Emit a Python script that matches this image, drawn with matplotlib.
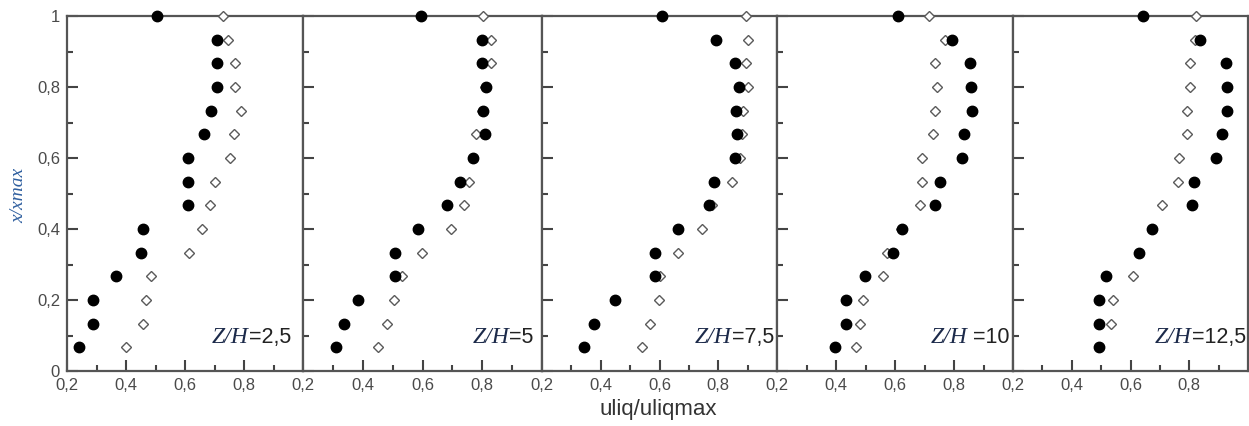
import matplotlib
matplotlib.use("Agg")
import matplotlib.pyplot as plt
import numpy as np

plt.rcParams['font.family'] = ['Liberation Sans', 'DejaVu Sans']

# y positions (x/xmax), from bottom to top
y_levels = [0.067, 0.133, 0.2, 0.267, 0.333, 0.4, 0.467, 0.533, 0.6,
            0.667, 0.733, 0.8, 0.867, 0.933, 1.0]

panel_values = ["=2,5", "=5", "=7,5", " =10", "=12,5"]

# filled circles (uliq/uliqmax), bottom to top
filled_25 = [0.242, 0.288, 0.288, 0.365, 0.451, 0.459, 0.61, 0.61, 0.61,
             0.665, 0.688, 0.707, 0.71, 0.71, 0.505]
filled_5 = [0.311, 0.336, 0.384, 0.507, 0.509, 0.584, 0.683, 0.726, 0.770,
            0.808, 0.802, 0.814, 0.799, 0.799, 0.594]
filled_75 = [0.342, 0.376, 0.448, 0.584, 0.584, 0.664, 0.768, 0.785, 0.856,
             0.864, 0.859, 0.870, 0.857, 0.791, 0.609]
filled_10 = [0.397, 0.434, 0.434, 0.499, 0.593, 0.625, 0.734, 0.751, 0.826,
             0.834, 0.860, 0.859, 0.853, 0.794, 0.61]
filled_125 = [0.493, 0.492, 0.492, 0.518, 0.63, 0.672, 0.808, 0.816, 0.891,
              0.911, 0.927, 0.927, 0.925, 0.836, 0.643]

# open diamonds (uliq/uliqmax), bottom to top
open_25 = [0.399, 0.457, 0.467, 0.486, 0.614, 0.659, 0.685, 0.702, 0.751,
           0.765, 0.79, 0.768, 0.768, 0.747, 0.728]
open_5 = [0.452, 0.48, 0.505, 0.533, 0.598, 0.697, 0.74, 0.757, 0.77,
          0.78, 0.80, 0.81, 0.828, 0.828, 0.802]
open_75 = [0.541, 0.569, 0.598, 0.603, 0.664, 0.745, 0.78, 0.848, 0.873,
           0.882, 0.884, 0.9, 0.893, 0.9, 0.893]
open_10 = [0.468, 0.482, 0.491, 0.561, 0.573, 0.62, 0.684, 0.69, 0.692,
           0.728, 0.734, 0.741, 0.734, 0.768, 0.715]
open_125 = [0.493, 0.532, 0.541, 0.607, 0.63, 0.672, 0.706, 0.76, 0.766,
            0.791, 0.793, 0.802, 0.802, 0.82, 0.823]

filled = [filled_25, filled_5, filled_75, filled_10, filled_125]
opened = [open_25, open_5, open_75, open_10, open_125]

x_ticks = [0.2, 0.4, 0.6, 0.8]
x_ticklabels = ["0,2", "0,4", "0,6", "0,8"]
y_ticks = [0, 0.2, 0.4, 0.6, 0.8, 1.0]
y_ticklabels = ["0", "0,2", "0,4", "0,6", "0,8", "1"]

W, H = 1249, 426
fig = plt.figure(figsize=(W / 100, H / 100), dpi=100)

lefts = [67, 303, 542, 777, 1013]
rights = [303, 542, 777, 1013, 1248]
top_px, bot_px = 16, 371
text_x = [0.949, 0.966, 0.987, 0.987, 0.991]

spine_c = '#555555'
tick_c = '#444444'

for i in range(5):
    ax = fig.add_axes([lefts[i] / W, (H - bot_px) / H,
                       (rights[i] - lefts[i]) / W, (bot_px - top_px) / H])
    ax.plot(opened[i], y_levels, linestyle='none', marker='D', ms=5.5,
            mfc='white', mec='#5a5a5a', mew=1.0, clip_on=False, zorder=3)
    ax.plot(filled[i], y_levels, linestyle='none', marker='o', ms=7.5,
            mfc='black', mec='black', clip_on=False, zorder=4)
    ax.set_xlim(0.2, 1.0)
    ax.set_ylim(0, 1)
    ax.set_xticks(x_ticks)
    ax.set_xticks([0.3, 0.5, 0.7, 0.9], minor=True)
    ax.set_xticklabels(x_ticklabels)
    ax.set_yticks(y_ticks)
    ax.set_yticks([0.1, 0.3, 0.5, 0.7, 0.9], minor=True)
    if i == 0:
        ax.set_yticklabels(y_ticklabels)
    else:
        ax.set_yticklabels([])
    ax.tick_params(which='both', direction='in', colors=tick_c,
                   labelcolor='#4a4a4a', labelsize=12, width=1.5,
                   top=False, right=False)
    ax.tick_params(which='major', length=8, pad=5)
    ax.tick_params(which='minor', length=4)
    for s in ax.spines.values():
        s.set_color(spine_c)
        s.set_linewidth(1.6)
    t1 = ax.text(text_x[i], 0.093, panel_values[i],
                 transform=ax.transAxes, ha='right', va='center',
                 fontsize=15.5, color='#222222')
    ax.annotate("Z/H", xy=(0, 0.5), xycoords=t1, ha='right', va='center',
                fontsize=17, family='Liberation Serif', style='italic',
                color='#1c2a4a')

fig.text(19 / W, 1 - 195 / H, "x/xmax", rotation=90, ha='center', va='center',
         fontsize=14, family='Liberation Serif', style='italic', color='#2f5f9f')
fig.text(658 / W, 1 - 410 / H, "uliq/uliqmax", ha='center', va='center',
         fontsize=16, color='#333333')

fig.savefig("out.png", dpi=100)
